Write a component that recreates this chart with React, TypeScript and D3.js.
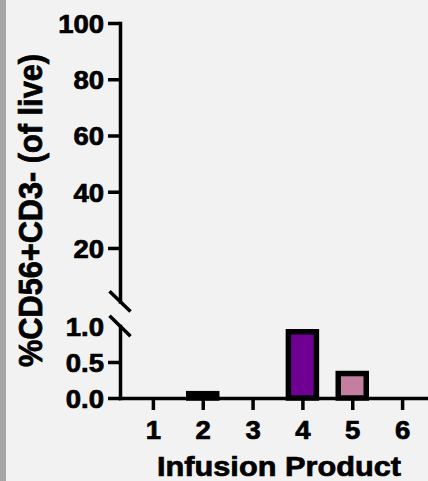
import React, { useEffect, useRef } from 'react';
import * as d3 from 'd3';

// Infusion products and their %CD56+CD3- (of live) values
const products = [1, 2, 3, 4, 5, 6];
const values = [0, 0.06, 0, 0.92, 0.34, 0];
const barColors = ['#4a6fb5', '#2b2b2b', '#3a9a5b', '#700094', '#c47fa0', '#e08b2e'];

// broken y axis: lower segment 0-1, upper segment 1-100
const lowerTicks = [0, 0.5, 1.0];
const upperTicks = [20, 40, 60, 80, 100];

const W = 428;
const H = 481;
const STRETCH = 1.1;

const App = () => {
  const ref = useRef<SVGSVGElement | null>(null);

  useEffect(() => {
    if (!ref.current) return;
    const svg = d3.select(ref.current);
    svg.selectAll('*').remove();

    svg.append('rect').attr('width', W).attr('height', H).attr('fill', '#f2f2f2');
    svg.append('rect').attr('width', 6).attr('height', H).attr('fill', '#a6a6a6');

    const axisX = 120;
    const x = d3.scaleLinear().domain([0.34, 6.52]).range([axisX, W]);
    const yLower = d3.scaleLinear().domain([0, 1]).range([398, 326]);
    const yUpper = d3.scaleLinear().domain([1, 100]).range([301.4, 23]);

    const font = 'Arial, "Liberation Sans", Helvetica, sans-serif';

    // Bars (all values fall in the lower segment)
    svg.append('g')
      .selectAll('rect')
      .data(values.map((v, i) => ({ p: products[i], v, c: barColors[i] })))
      .enter()
      .append('rect')
      .attr('x', d => x(d.p) - 14)
      .attr('width', 28)
      .attr('y', d => yLower(d.v))
      .attr('height', d => yLower(0) - yLower(d.v))
      .attr('fill', d => d.c)
      .attr('stroke', '#000')
      .attr('stroke-width', 5.5);

    const heavy = (t: any, size: number) =>
      t.attr('fill', '#000')
        .attr('stroke', '#000')
        .attr('stroke-width', 0.7)
        .style('font-family', font)
        .style('font-weight', 'bold')
        .style('font-size', `${size}px`);

    const styleAxis = (g: any, isY: boolean) => {
      g.select('.domain').attr('stroke', '#000').attr('stroke-width', 3.5).attr('stroke-linecap', 'square');
      g.selectAll('.tick line').attr('stroke', '#000').attr('stroke-width', 3.5);
      heavy(g.selectAll('.tick text'), 25);
      if (isY) {
        g.selectAll('.tick text')
          .attr('x', -16 / STRETCH)
          .attr('dy', '0.38em')
          .attr('transform', `scale(${STRETCH},1)`);
      } else {
        g.selectAll('.tick text').attr('transform', `scale(${STRETCH},1)`);
      }
    };

    // X axis
    const gx = svg.append('g')
      .attr('transform', `translate(0,${yLower(0)})`)
      .call(d3.axisBottom(x).tickValues(products).tickFormat(d3.format('d')).tickSize(12).tickSizeOuter(0).tickPadding(11));
    styleAxis(gx, false);

    // Lower Y axis
    const gyl = svg.append('g')
      .attr('transform', `translate(${axisX},0)`)
      .call(d3.axisLeft(yLower).tickValues(lowerTicks).tickFormat(d3.format('.1f')).tickSize(12).tickSizeOuter(0));
    styleAxis(gyl, true);
    gyl.selectAll('.tick line').filter((d: any) => d === 1).remove();

    // Upper Y axis
    const gyu = svg.append('g')
      .attr('transform', `translate(${axisX},0)`)
      .call(d3.axisLeft(yUpper).tickValues(upperTicks).tickFormat(d3.format('d')).tickSize(12).tickSizeOuter(0));
    styleAxis(gyu, true);

    // Break marks
    [yUpper(1), yLower(1)].forEach(yy => {
      svg.append('line')
        .attr('x1', axisX - 10.5).attr('y1', yy - 10.2)
        .attr('x2', axisX + 10.5).attr('y2', yy + 10.2)
        .attr('stroke', '#000').attr('stroke-width', 3.5);
    });

    // Axis titles
    heavy(svg.append('text'), 31)
      .attr('transform', `translate(41.5,210.5) scale(${STRETCH},1) rotate(-90)`)
      .attr('text-anchor', 'middle')
      .attr('textLength', 313)
      .attr('lengthAdjust', 'spacingAndGlyphs')
      .text('%CD56+CD3- (of live)');

    heavy(svg.append('text'), 28)
      .attr('transform', `translate(279,476) scale(${STRETCH},1)`)
      .attr('text-anchor', 'middle')
      .attr('textLength', 244 / STRETCH)
      .attr('lengthAdjust', 'spacingAndGlyphs')
      .text('Infusion Product');
  }, []);

  return (
    <svg
      ref={ref}
      width={W}
      height={H}
      style={{ position: 'absolute', left: 0, top: 0, display: 'block' }}
    />
  );
};

export default App;
